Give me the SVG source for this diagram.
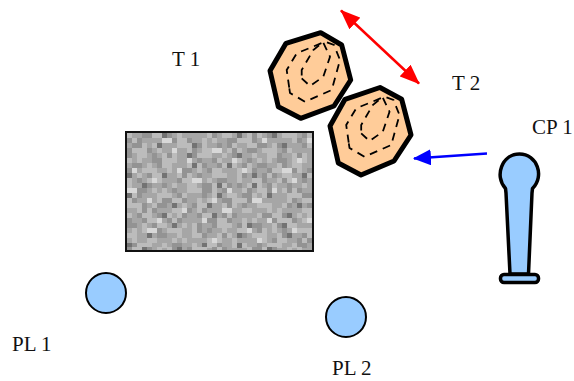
<svg xmlns="http://www.w3.org/2000/svg" width="574" height="381" viewBox="0 0 574 381">
<style>
text{font-family:"Liberation Serif","Times New Roman",serif;font-size:21px;fill:#111}
.tree{fill:#ffcc99;stroke:#000;stroke-width:5;stroke-linejoin:round}
.ring{fill:none;stroke:#000;stroke-width:1.800;stroke-dasharray:8 6}
.pl{fill:#99ccff;stroke:#000;stroke-width:2}
.cp{fill:#99ccff;stroke:#000;stroke-width:3.500;stroke-linejoin:round}
.n path{fill:none;stroke-width:5;shape-rendering:crispEdges}
.a{stroke:#939393;stroke-dasharray:5 10 10 15 5 5 5 25 10 10 5 20}
.b{stroke:#bcbcbc;stroke-dasharray:10 15 5 5 5 20 15 10 5 25 5 10}
.c{stroke:#737373;stroke-dasharray:5 45 5 70 5 30 5 85}
.d{stroke:#d8d8d8;stroke-dasharray:5 60 5 35 10 90 5 40}
</style>
<defs>
<marker id="r" viewBox="0 0 20 16" refX="19" refY="8" markerWidth="20" markerHeight="16" markerUnits="userSpaceOnUse" orient="auto-start-reverse"><path d="M0 0L20 8L0 16Z" fill="#ff0000"/></marker>
<marker id="bl" viewBox="0 0 18 16" refX="17" refY="8" markerWidth="18" markerHeight="16" markerUnits="userSpaceOnUse" orient="auto"><path d="M0 0L18 8L0 16Z" fill="#0000ff"/></marker>
<g id="rings">
<path class="ring" d="M29.300 88.300L30 93L45 101.700L71.700 90L80 60L74 45L65 41.700L36.700 53.300L26.700 70Z"/>
<path class="ring" d="M41.700 78.300L50 86L63.300 76.700L70 56.700L63 42L53.300 50L41.700 70Z"/>
</g>
</defs>
<g id="pile" class="n">
<rect x="127" y="133" width="186" height="118" fill="#a6a6a6"/>
<path class="a" d="M127 135.500H313" stroke-dashoffset="0"/><path class="b" d="M127 135.500H313" stroke-dashoffset="35"/><path class="c" d="M127 135.500H313" stroke-dashoffset="15"/>
<path class="a" d="M127 140.500H313" stroke-dashoffset="40"/><path class="b" d="M127 140.500H313" stroke-dashoffset="80"/><path class="d" d="M127 140.500H313" stroke-dashoffset="70"/>
<path class="a" d="M127 145.500H313" stroke-dashoffset="75"/><path class="b" d="M127 145.500H313" stroke-dashoffset="10"/><path class="c" d="M127 145.500H313" stroke-dashoffset="95"/>
<path class="a" d="M127 150.500H313" stroke-dashoffset="20"/><path class="b" d="M127 150.500H313" stroke-dashoffset="55"/><path class="d" d="M127 150.500H313" stroke-dashoffset="20"/>
<path class="a" d="M127 155.500H313" stroke-dashoffset="100"/><path class="b" d="M127 155.500H313" stroke-dashoffset="120"/><path class="c" d="M127 155.500H313" stroke-dashoffset="190"/>
<path class="a" d="M127 160.500H313" stroke-dashoffset="55"/><path class="b" d="M127 160.500H313" stroke-dashoffset="25"/><path class="d" d="M127 160.500H313" stroke-dashoffset="145"/>
<path class="a" d="M127 165.500H313" stroke-dashoffset="10"/><path class="b" d="M127 165.500H313" stroke-dashoffset="95"/><path class="c" d="M127 165.500H313" stroke-dashoffset="60"/>
<path class="a" d="M127 170.500H313" stroke-dashoffset="85"/><path class="b" d="M127 170.500H313" stroke-dashoffset="45"/><path class="d" d="M127 170.500H313" stroke-dashoffset="200"/>
<path class="a" d="M127 175.500H313" stroke-dashoffset="30"/><path class="b" d="M127 175.500H313" stroke-dashoffset="105"/><path class="c" d="M127 175.500H313" stroke-dashoffset="125"/>
<path class="a" d="M127 180.500H313" stroke-dashoffset="115"/><path class="b" d="M127 180.500H313" stroke-dashoffset="5"/><path class="d" d="M127 180.500H313" stroke-dashoffset="40"/>
<path class="a" d="M127 185.500H313" stroke-dashoffset="65"/><path class="b" d="M127 185.500H313" stroke-dashoffset="70"/><path class="c" d="M127 185.500H313" stroke-dashoffset="35"/>
<path class="a" d="M127 190.500H313" stroke-dashoffset="5"/><path class="b" d="M127 190.500H313" stroke-dashoffset="130"/><path class="d" d="M127 190.500H313" stroke-dashoffset="105"/>
<path class="a" d="M127 195.500H313" stroke-dashoffset="90"/><path class="b" d="M127 195.500H313" stroke-dashoffset="30"/><path class="c" d="M127 195.500H313" stroke-dashoffset="160"/>
<path class="a" d="M127 200.500H313" stroke-dashoffset="45"/><path class="b" d="M127 200.500H313" stroke-dashoffset="85"/><path class="d" d="M127 200.500H313" stroke-dashoffset="230"/>
<path class="a" d="M127 205.500H313" stroke-dashoffset="110"/><path class="b" d="M127 205.500H313" stroke-dashoffset="60"/><path class="c" d="M127 205.500H313" stroke-dashoffset="80"/>
<path class="a" d="M127 210.500H313" stroke-dashoffset="25"/><path class="b" d="M127 210.500H313" stroke-dashoffset="15"/><path class="d" d="M127 210.500H313" stroke-dashoffset="10"/>
<path class="a" d="M127 215.500H313" stroke-dashoffset="70"/><path class="b" d="M127 215.500H313" stroke-dashoffset="115"/><path class="c" d="M127 215.500H313" stroke-dashoffset="215"/>
<path class="a" d="M127 220.500H313" stroke-dashoffset="125"/><path class="b" d="M127 220.500H313" stroke-dashoffset="40"/><path class="d" d="M127 220.500H313" stroke-dashoffset="175"/>
<path class="a" d="M127 225.500H313" stroke-dashoffset="15"/><path class="b" d="M127 225.500H313" stroke-dashoffset="100"/><path class="c" d="M127 225.500H313" stroke-dashoffset="5"/>
<path class="a" d="M127 230.500H313" stroke-dashoffset="95"/><path class="b" d="M127 230.500H313" stroke-dashoffset="20"/><path class="d" d="M127 230.500H313" stroke-dashoffset="85"/>
<path class="a" d="M127 235.500H313" stroke-dashoffset="50"/><path class="b" d="M127 235.500H313" stroke-dashoffset="65"/><path class="c" d="M127 235.500H313" stroke-dashoffset="140"/>
<path class="a" d="M127 240.500H313" stroke-dashoffset="120"/><path class="b" d="M127 240.500H313" stroke-dashoffset="110"/><path class="d" d="M127 240.500H313" stroke-dashoffset="120"/>
<path class="a" d="M127 245.500H313" stroke-dashoffset="35"/><path class="b" d="M127 245.500H313" stroke-dashoffset="50"/><path class="c" d="M127 245.500H313" stroke-dashoffset="50"/>
<path class="a" d="M127 249.500H313" stroke-dashoffset="80"/><path class="b" d="M127 249.500H313" stroke-dashoffset="125"/><path class="c" d="M127 249.500H313" stroke-dashoffset="110"/>
<rect x="126" y="132" width="187" height="119" fill="none" stroke="#111" stroke-width="2"/>
</g>
<g id="t1">
<polygon class="tree" points="286,43.300 320.700,32.700 341.700,45 350.700,80 334,106 300.700,118.300 278.300,106.700 270,70.700"/>
<use href="#rings" x="260" y="0"/>
<text x="172" y="66">T 1</text>
</g>
<g id="t2">
<polygon class="tree" points="345,99.300 380,87.500 401.700,99.300 411,135 394,161 361,175 338.300,163 330,126"/>
<use href="#rings" x="319.500" y="55"/>
<text x="452" y="90">T 2</text>
</g>
<g id="cp1">
<path class="cp" d="M506 193L510 274H528.500L532 193L532.500 188.500C545 176 537 154 519.500 154C502 154 494 176 505.500 188.500Z"/>
<rect x="500.500" y="274.500" width="38" height="8" rx="3.500" class="cp"/>
<text x="532" y="134">CP 1</text>
</g>
<g id="pl1">
<circle class="pl" cx="106" cy="293" r="20"/>
<text x="12" y="351">PL 1</text>
</g>
<g id="pl2">
<circle class="pl" cx="346" cy="317" r="20"/>
<text x="332" y="375">PL 2</text>
</g>
<g id="connectors">
<line x1="341" y1="10.500" x2="419" y2="83.500" stroke="#ff0000" stroke-width="2.500" marker-start="url(#r)" marker-end="url(#r)"/>
<line x1="487" y1="153.500" x2="414" y2="158.500" stroke="#0000ff" stroke-width="2.500" marker-end="url(#bl)"/>
</g>
</svg>
